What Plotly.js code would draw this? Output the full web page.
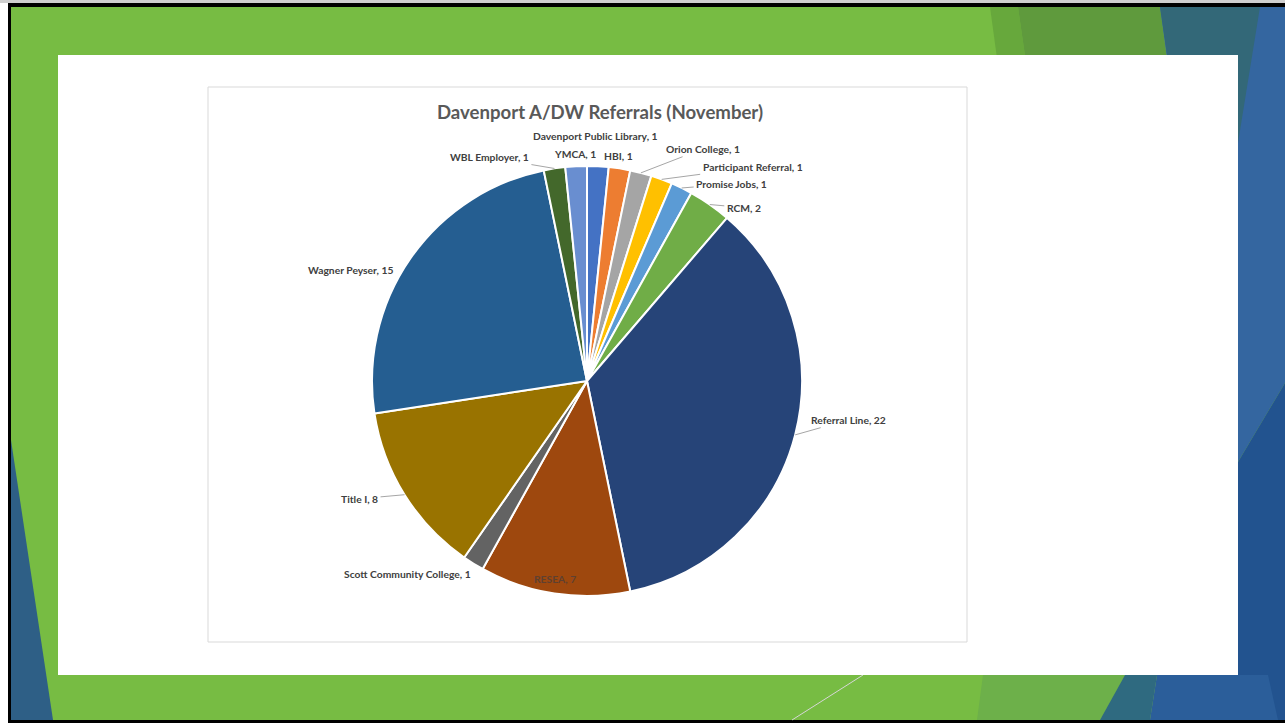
<!DOCTYPE html>
<html>
<head>
<meta charset="utf-8">
<script src="https://cdn.plot.ly/plotly-3.0.1.min.js"></script>
<style>
html,body{margin:0;padding:0;background:#ffffff;overflow:hidden}
#chart{width:1285px;height:723px}
</style>
</head>
<body>
<div id="chart"></div>
<script>
// ---------- data ----------
const categories = [
  "Davenport Public Library", "HBI", "Orion College", "Participant Referral",
  "Promise Jobs", "RCM", "Referral Line", "RESEA", "Scott Community College",
  "Title I", "Wagner Peyser", "WBL Employer", "YMCA"
];
const values = [1, 1, 1, 1, 1, 2, 22, 7, 1, 8, 15, 1, 1];
const chartTitle = "Davenport A/DW Referrals (November)";

// ---------- style ----------
const sliceColors = [
  "#4472C4", "#ED7D31", "#A5A5A5", "#FFC000", "#5B9BD5", "#70AD47",
  "#264478", "#9E480E", "#636363", "#997300", "#255E91", "#43682B", "#698ED0"
];
// label offsets (pixels from slice edge midpoint), whether leader line shows
const labelStyle = {
  "Davenport Public Library": {ax: -2, ay: -30, line: false},
  "HBI": {ax: -1, ay: -12, line: false},
  "Orion College": {ax: 62, ay: -24, line: true},
  "Participant Referral": {ax: 91, ay: -12, line: true},
  "Promise Jobs": {ax: 50, ay: -4, line: true},
  "RCM": {ax: 34, ay: 3, line: true},
  "Referral Line": {ax: 53, ay: -15, line: true},
  "RESEA": {ax: 1, ay: -15, line: false, inside: true},
  "Scott Community College": {ax: -66, ay: 11, line: false},
  "Title I": {ax: -45, ay: 4, line: true},
  "Wagner Peyser": {ax: -60, ay: 12, line: false},
  "WBL Employer": {ax: -65, ay: -11, line: true},
  "YMCA": {ax: -1, ay: -12, line: false}
};

const W = 1285, H = 723;
const CX = 587, CY = 381, R = 215;
const px = x => x / W;
const py = y => 1 - y / H;
function poly(pts) {
  return "M" + pts.map(p => px(p[0]).toFixed(5) + "," + py(p[1]).toFixed(5)).join("L") + "Z";
}
function polyShape(pts, color) {
  return {type: "path", xref: "paper", yref: "paper", layer: "below",
          path: poly(pts), fillcolor: color, line: {width: 0}};
}
function rectShape(x0, y0, x1, y1, fill, lineColor, lw) {
  return {type: "rect", xref: "paper", yref: "paper", layer: "below",
          x0: px(x0), x1: px(x1), y0: py(y1), y1: py(y0),
          fillcolor: fill, line: {color: lineColor || "rgba(0,0,0,0)", width: lw || 0}};
}

// ---------- slide background ----------
const shapes = [
  rectShape(0, 0, W, 3, "#CFCFCF"),
  rectShape(8, 3, W, H, "#000000"),
  rectShape(11, 7, W, 720, "#77BC43"),
  // left blue wedge
  polyShape([[11, 440], [53, 720], [11, 720]], "#2E5F86"),
  // top-right bands
  polyShape([[990, 7], [1018, 7], [1060, 300], [1030, 300]], "#67A83C"),
  polyShape([[1018, 7], [1160, 7], [1200, 300], [1060, 300]], "#5F9A3D"),
  polyShape([[1285, 7], [1285, 383], [1238, 462], [1200, 300], [1160, 7]], "#3466A0"),
  polyShape([[1160, 7], [1260, 7], [1238, 143], [1180, 143]], "#336878"),
  polyShape([[1285, 383], [1285, 720], [1238, 720], [1238, 462]], "#22538F"),
  // bottom-right bands
  polyShape([[983, 675], [1125, 675], [1100, 720], [977, 720]], "#6DB04A"),
  polyShape([[1125, 675], [1157, 675], [1150, 720], [1100, 720]], "#2F6A80"),
  polyShape([[1157, 675], [1268, 675], [1278, 720], [1150, 720]], "#2B5E9A"),
  // thin light line at bottom
  {type: "line", xref: "paper", yref: "paper", layer: "below",
   x0: px(792), y0: py(720), x1: px(863), y1: py(675),
   line: {color: "#D6D6D6", width: 1}},
  // white content box
  rectShape(58, 55, 1238, 675, "#FFFFFF"),
  // chart frame
  rectShape(208, 87, 967, 642, "#FFFFFF", "#D9D9D9", 1)
];

// ---------- labels as annotations anchored on slice edge midpoints ----------
const total = values.reduce((a, b) => a + b, 0);
const annotations = [];
let cum = 0;
categories.forEach((cat, i) => {
  const mid = (cum + values[i] / 2) / total * 2 * Math.PI;
  cum += values[i];
  const st = labelStyle[cat];
  const ex = CX + R * Math.sin(mid);
  const ey = CY - R * Math.cos(mid);
  annotations.push({
    xref: "paper", yref: "paper",
    x: px(ex), y: py(ey),
    text: cat + ", " + values[i],
    showarrow: true, arrowhead: 0, arrowwidth: 1, standoff: 0, startstandoff: 1,
    arrowcolor: st.line ? "#A6A6A6" : "rgba(0,0,0,0)",
    ax: st.ax, ay: st.ay,
    font: {family: "Lato, 'Open Sans', sans-serif", size: 10.3, weight: "bold",
           color: st.inside ? "#5E4030" : "#404040"}
  });
});

const trace = {
  type: "pie",
  labels: categories,
  values: values,
  sort: false,
  direction: "clockwise",
  rotation: 0,
  textinfo: "none",
  hoverinfo: "label+value",
  marker: {colors: sliceColors, line: {color: "#FFFFFF", width: 2}},
  domain: {x: [px(CX - R), px(CX + R)], y: [py(CY + R), py(CY - R)]},
  showlegend: false
};

const layout = {
  width: W, height: H,
  margin: {l: 0, r: 0, t: 0, b: 0},
  paper_bgcolor: "#FFFFFF",
  showlegend: false,
  title: {
    text: chartTitle,
    x: px(600), xanchor: "center", xref: "paper",
    y: py(112), yanchor: "middle", yref: "paper",
    font: {family: "Lato, 'Open Sans', sans-serif", size: 18.6, weight: "bold", color: "#595959"}
  },
  shapes: shapes,
  annotations: annotations
};

Plotly.newPlot("chart", [trace], layout, {displayModeBar: false, staticPlot: true});
</script>
</body>
</html>
